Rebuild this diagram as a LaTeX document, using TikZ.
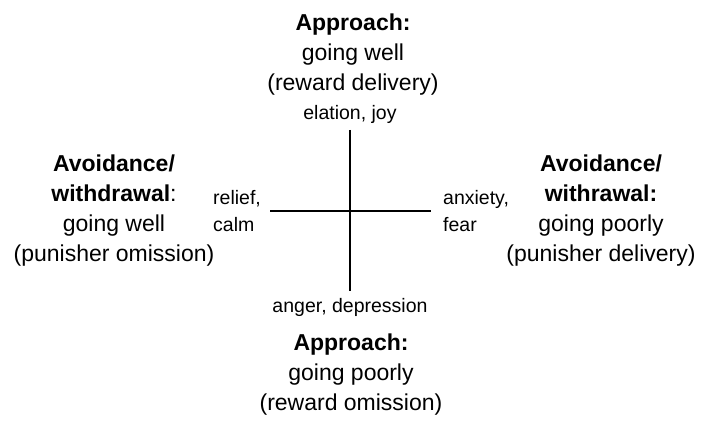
\documentclass[tikz,border=0pt]{standalone}
\usepackage{fontspec}
\setmainfont{Liberation Sans}
\usepackage{tikz}
\usetikzlibrary{positioning}

\begin{document}
\begin{tikzpicture}[
        x=1pt, y=-1pt,
        heading/.style={
            draw=none,
            align=center,
            inner sep=0pt,
            font=\fontsize{23}{30}\selectfont
        },
        emotion/.style={
            draw=none,
            inner sep=0pt,
            font=\fontsize{19.5}{27}\selectfont
        },
        axis/.style={
            line width=2.6pt,
            black
        }
    ]
        \useasboundingbox (0,0) rectangle (707,427);

        % axes
        \coordinate (centre) at (350,211);
        \coordinate (top) at (350,130);
        \coordinate (bottom) at (350,291);
        \coordinate (left) at (270,211);
        \coordinate (right) at (431,211);
        \draw[axis] (top) -- (bottom);
        \draw[axis] (left) -- (right);

        % approach, going well
        \node[heading] (appwell) at (353,55) {
            \textbf{Approach:}\\
            going well\\
            (reward delivery)
        };
        \node[emotion] (elation) at (350,114) {elation, joy};

        % approach, going poorly
        \node[emotion] (anger) at (350,307) {anger, depression};
        \node[heading] (apppoor) at (351,375) {
            \textbf{Approach:}\\
            going poorly\\
            (reward omission)
        };

        % avoidance, going well
        \node[heading] (avoidwell) at (114,211) {
            \textbf{Avoidance/}\\
            \textbf{withdrawal}:\\
            going well\\
            (punisher omission)
        };
        \node[emotion, align=left, anchor=west] (relief) at (213,211) {
            relief,\\
            calm
        };

        % avoidance, going poorly
        \node[emotion, align=left, anchor=west] (anxiety) at (443,211) {
            anxiety,\\
            fear
        };
        \node[heading] (avoidpoor) at (601,211) {
            \textbf{Avoidance/}\\
            \textbf{withrawal:}\\
            going poorly\\
            (punisher delivery)
        };
    \end{tikzpicture}
\end{document}
